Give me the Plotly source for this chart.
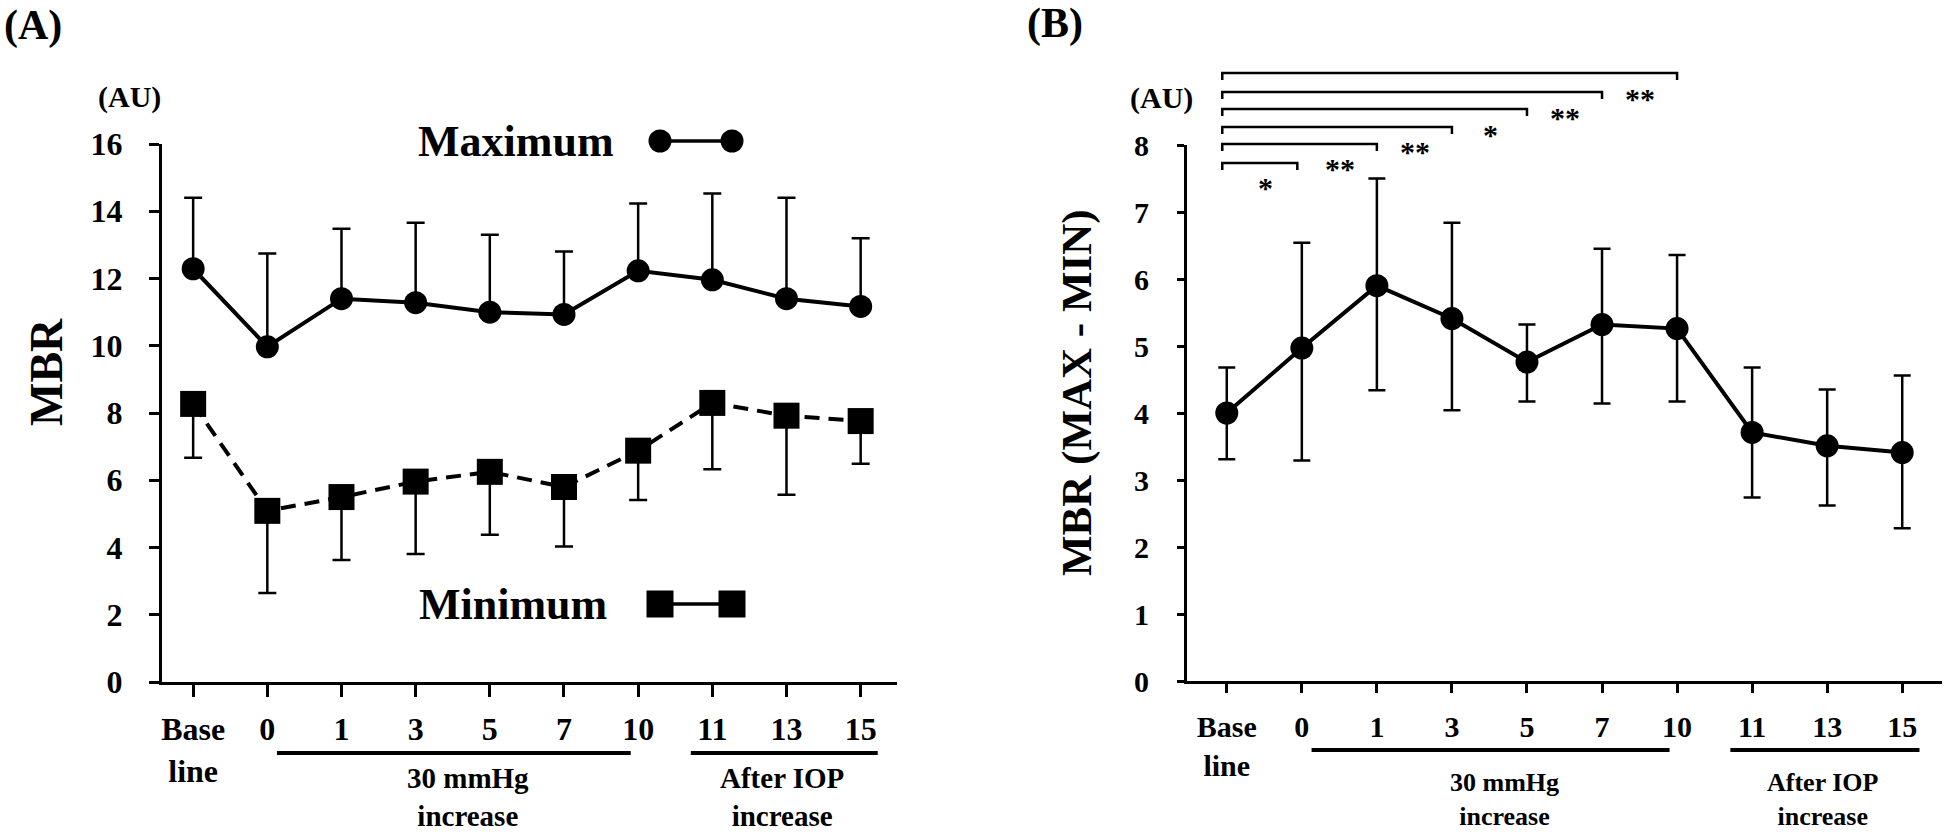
import plotly.graph_objects as go

# ---------------- data ----------------
categories = ["Base<br>line", "0", "1", "3", "5", "7", "10", "11", "13", "15"]

# Panel A (MBR, AU): mean and SD (one-sided bars)
max_mean = [12.29, 9.97, 11.40, 11.28, 11.00, 10.93, 12.23, 11.96, 11.40, 11.17]
max_sd = [2.11, 2.77, 2.08, 2.38, 2.30, 1.87, 2.00, 2.57, 3.00, 2.03]
min_mean = [8.27, 5.09, 5.50, 5.96, 6.25, 5.80, 6.88, 8.30, 7.92, 7.76]
min_sd = [1.60, 2.44, 1.87, 2.15, 1.87, 1.77, 1.47, 1.97, 2.35, 1.27]

# Panel B (MBR MAX - MIN): mean with upper / lower limits
diff_mean = [4.00, 4.97, 5.90, 5.41, 4.76, 5.32, 5.26, 3.71, 3.51, 3.41]
diff_upper = [4.68, 6.54, 7.50, 6.84, 5.32, 6.45, 6.36, 4.68, 4.35, 4.56]
diff_lower = [3.31, 3.29, 4.34, 4.04, 4.17, 4.14, 4.17, 2.74, 2.62, 2.28]

# significance comparisons: baseline (index 0) vs index i
sig_targets = [1, 2, 3, 4, 5, 6]
sig_labels = ["*", "**", "**", "*", "**", "**"]

# x-axis groups
groups = ["30 mmHg<br>increase", "After IOP<br>increase"]
group_spans = [(1.13, 5.9), (6.71, 9.23)]
group_centers = [3.7, 7.94]

yticks_a = [0, 2, 4, 6, 8, 10, 12, 14, 16]
yticks_b = [0, 1, 2, 3, 4, 5, 6, 7, 8]

# ---------------- layout helpers ----------------
W, H = 1946, 834
FONT = "Liberation Serif"


def px_x(p):
    return p / W


def px_y(p):
    return 1 - p / H


xpos = list(range(len(categories)))

fig = go.Figure()

# Panel A traces
fig.add_trace(go.Scatter(
    x=xpos, y=max_mean, mode="lines+markers", xaxis="x", yaxis="y",
    line=dict(color="black", width=4),
    marker=dict(symbol="circle", size=23, color="black"),
    error_y=dict(type="data", symmetric=False, array=max_sd,
                 arrayminus=[0] * len(max_sd), color="black",
                 thickness=2.5, width=9),
    showlegend=False, hoverinfo="skip"))
fig.add_trace(go.Scatter(
    x=xpos, y=min_mean, mode="lines+markers", xaxis="x", yaxis="y",
    line=dict(color="black", width=4, dash="15px,9px"),
    marker=dict(symbol="square", size=26, color="black"),
    error_y=dict(type="data", symmetric=False, array=[0] * len(min_sd),
                 arrayminus=min_sd, color="black", thickness=2.5, width=9),
    showlegend=False, hoverinfo="skip"))

# Panel B trace
fig.add_trace(go.Scatter(
    x=xpos, y=diff_mean, mode="lines+markers", xaxis="x2", yaxis="y2",
    line=dict(color="black", width=4),
    marker=dict(symbol="circle", size=23, color="black"),
    error_y=dict(type="data", symmetric=False,
                 array=[u - m for u, m in zip(diff_upper, diff_mean)],
                 arrayminus=[m - l for m, l in zip(diff_mean, diff_lower)],
                 color="black", thickness=2.5, width=8.5),
    showlegend=False, hoverinfo="skip"))

tickfont_a = dict(family=FONT, size=32, color="black", weight="bold")
tickfont_b = dict(family=FONT, size=30, color="black", weight="bold")

fig.update_layout(
    width=W, height=H, autosize=False,
    margin=dict(l=0, r=0, t=0, b=0, pad=0, autoexpand=False),
    showlegend=False,
    paper_bgcolor="white", plot_bgcolor="white",
    font=dict(family=FONT, color="black", weight="bold"),
    xaxis=dict(domain=[px_x(162), px_x(897)], range=[-0.42, 9.49],
               tickvals=xpos, ticktext=categories, tickfont=tickfont_a,
               showline=True, linecolor="black", linewidth=3,
               ticks="outside", ticklen=12, tickwidth=3, tickcolor="black",
               showgrid=False, zeroline=False, anchor="y",
               ticklabelstandoff=5, automargin=False),
    yaxis=dict(domain=[px_y(682), px_y(144)], range=[0, 16],
               tickvals=yticks_a, tickfont=tickfont_a,
               showline=True, linecolor="black", linewidth=3,
               ticks="outside", ticklen=10, tickwidth=3, tickcolor="black",
               showgrid=False, zeroline=False, anchor="x",
               ticklabelstandoff=20, automargin=False),
    xaxis2=dict(domain=[px_x(1187), px_x(1942)], range=[-0.53, 9.53],
                tickvals=xpos, ticktext=categories, tickfont=tickfont_b,
                showline=True, linecolor="black", linewidth=3,
                ticks="outside", ticklen=9, tickwidth=3, tickcolor="black",
                showgrid=False, zeroline=False, anchor="y2",
                ticklabelstandoff=8, automargin=False),
    yaxis2=dict(domain=[px_y(681), px_y(145)], range=[0, 8],
                tickvals=yticks_b, tickfont=tickfont_b,
                showline=True, linecolor="black", linewidth=3,
                ticks="outside", ticklen=7, tickwidth=2.5, tickcolor="black",
                showgrid=False, zeroline=False, anchor="x2",
                ticklabelstandoff=22, automargin=False),
)

shapes = []
annotations = []


def ann(text, x, y, size, xref="paper", yref="paper", xanchor="center",
        yanchor="middle", textangle=0):
    annotations.append(dict(
        text=text, x=x, y=y, xref=xref, yref=yref, xanchor=xanchor,
        yanchor=yanchor, showarrow=False, textangle=textangle,
        font=dict(family=FONT, size=size, color="black", weight="bold")))


# panel letters, units, y titles
ann("(A)", px_x(33), px_y(25), 42)
ann("(B)", px_x(1055), px_y(23), 42)
ann("(AU)", px_x(163), px_y(97), 30, xanchor="right")
ann("(AU)", px_x(1195), px_y(98), 30, xanchor="right")
ann("MBR", px_x(46), px_y(372), 46, textangle=-90)
ann("MBR (MAX - MIN)", px_x(1077), px_y(393), 43, textangle=-90)

# Panel A legend
ann("Maximum", px_x(416), px_y(141), 44, xanchor="left")
ann("Minimum", px_x(417), px_y(604), 44, xanchor="left")
for ky, sym in [(141, "circle"), (604, "square")]:
    shapes.append(dict(type="line", xref="paper", yref="paper",
                       x0=px_x(660), x1=px_x(732), y0=px_y(ky), y1=px_y(ky),
                       line=dict(color="black", width=3.5)))
    r = 11.5 if sym == "circle" else 13.5
    for cx in (660, 732):
        shapes.append(dict(type=sym if sym == "circle" else "rect",
                           xref="paper", yref="paper",
                           x0=px_x(cx - r), x1=px_x(cx + r),
                           y0=px_y(ky + r), y1=px_y(ky - r),
                           fillcolor="black", line=dict(width=0)))

# group lines and labels under the x axes
for xref, line_px, text_px, fsize in [("x", 753, 797, 29), ("x2", 750, 799, 26)]:
    for (g0, g1), gc, gt in zip(group_spans, group_centers, groups):
        shapes.append(dict(type="line", xref=xref, yref="paper",
                           x0=g0, x1=g1, y0=px_y(line_px), y1=px_y(line_px),
                           line=dict(color="black", width=4)))
        ann(gt, gc, px_y(text_px), fsize, xref=xref)

# significance brackets in panel B
levels_px = [163, 144, 127, 109, 92, 73]
tick_px = 7
for tgt, lab, lev in zip(sig_targets, sig_labels, levels_px):
    y_line = px_y(lev)
    y_tick = px_y(lev + tick_px)
    x0 = -0.06
    x1 = tgt - (0.06 if tgt == 1 else 0.0)
    shapes.append(dict(type="path", xref="x2", yref="paper",
                       path=f"M {x0},{y_tick} L {x0},{y_line} L {x1},{y_line} L {x1},{y_tick}",
                       line=dict(color="black", width=2.5)))
    ann(lab, tgt - 0.49, px_y(lev + 19 + 6), 30, xref="x2")

fig.update_layout(shapes=shapes, annotations=annotations)

fig.write_html(
    "out.html",
    config={"responsive": False, "displayModeBar": False},
    post_script="document.body.style.margin='0';document.body.style.overflow='hidden';",
)
